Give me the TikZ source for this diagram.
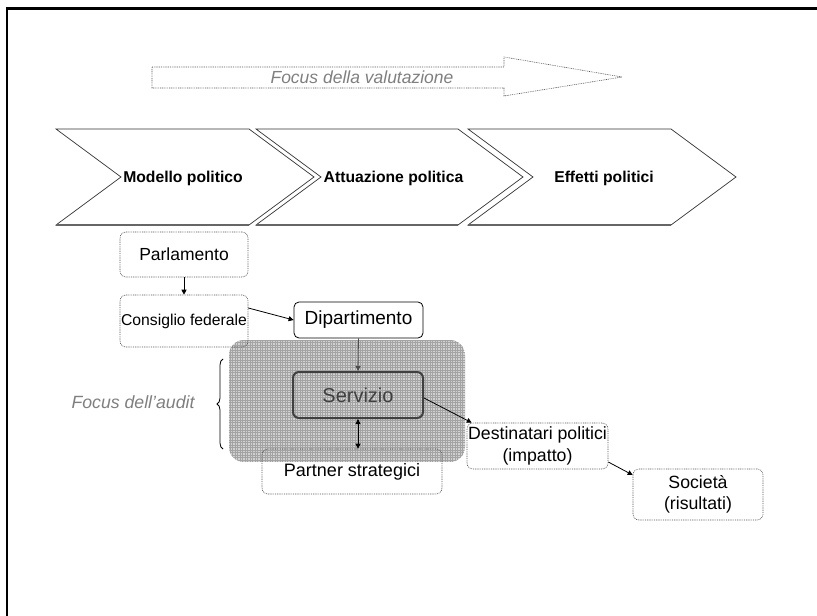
\documentclass[tikz,border=0pt]{standalone}
\usepackage{fontspec}
\setmainfont{Liberation Sans}
\usetikzlibrary{arrows.meta,decorations.pathreplacing}
\definecolor{focusgray}{HTML}{7F7F7F}
\definecolor{dotgray}{HTML}{555555}
\definecolor{servgray}{HTML}{404040}
\newcommand\sz[1]{\fontsize{#1bp}{1.2\dimexpr #1bp\relax}\selectfont}
\begin{document}
\begin{tikzpicture}[x=1bp, y=-1bp,
  dotbox/.style={draw=dotgray, line width=0.6bp, dash pattern=on 0.9bp off 0.9bp,
    rounded corners=6bp, inner sep=0pt, align=center},
  solidbox/.style={draw=black, line width=0.8bp, rounded corners=5bp, inner sep=0pt, align=center},
  chev/.style={draw=black!80, line width=0.7bp, line join=miter},
  chevlabel/.style={font=\sz{15.7}\bfseries, inner sep=0pt},
  conn/.style={line width=0.8bp, -{Triangle[length=5bp,width=5bp]}},
  focus/.style={text=focusgray, font=\sz{17.5}\itshape, inner sep=0pt}]
\useasboundingbox (0,0) rectangle (817,616);

% page frame
\draw[line width=2bp] (7,616) -- (7,8.3);
\draw[line width=3.3bp] (6,8.3) -- (817,8.3);

% evaluation focus arrow
\draw[dotgray, line width=0.6bp, dash pattern=on 0.9bp off 0.9bp]
  (152,67) -- (504,67) -- (504,57) -- (622,77) -- (504,96) -- (504,88) -- (152,88) -- cycle;
\node[focus] (evalfocus) at (362,77) {Focus della valutazione};

% process chevrons
\foreach \l/\r in {56/249, 256/458, 468/671} {
  \draw[chev] (\l,129) -- (\r,129) -- (\r+65,177) -- (\r,225) -- (\l,225) -- (\l+65,177) -- cycle;
  \draw[black!60, line width=1.6bp] (\l,225) -- (\r,225);
}
\node[chevlabel] (modello) at (183,178) {Modello politico};
\node[chevlabel] (attuazione) at (393.5,178) {Attuazione politica};
\node[chevlabel] (effetti) at (604,178) {Effetti politici};

% audit focus area
\begin{scope}
  \clip[rounded corners=15bp] (229,340) rectangle (465,462);
  \fill[black!18] (229,340) rectangle (465,462);
  \draw[black!36, line width=0.3bp, step=2.5bp] (229,340) grid (465,462);
\end{scope}
\draw[decorate, decoration={brace, amplitude=6bp}, line width=0.8bp] (223,449) -- (223,359);
\node[focus, font=\sz{17.7}\itshape] (auditfocus) at (133,402) {Focus dell’audit};

% actors
\node[dotbox, minimum width=128bp, minimum height=45bp, font=\sz{17.5}] (parl) at (184,254.5) {Parlamento};
\node[dotbox, minimum width=128bp, minimum height=52bp, font=\sz{15.7}] (cons) at (184,321) {Consiglio federale};
\node[solidbox, minimum width=129bp, minimum height=36bp, font=\sz{19}] (dip) at (358.5,320) {Dipartimento};
\node[draw=servgray, line width=2bp, rounded corners=6bp, inner sep=0pt,
  minimum width=130bp, minimum height=46bp, text=servgray, font=\sz{20}] (serv) at (358,395) {Servizio};
\node[dotbox, minimum width=180bp, minimum height=45bp, font=\sz{18}] (partner) at (352,471.5) {Partner strategici};
\node[dotbox, minimum width=141bp, minimum height=46bp, font=\sz{17.7}] (dest) at (537.5,446) {Destinatari politici\\(impatto)};
\node[dotbox, minimum width=130bp, minimum height=51bp, font=\sz{17.7}] (soc) at (698,494.5) {Società\\(risultati)};

% connectors
\draw[conn] (parl.south) -- (cons.north);
\draw[conn] ([yshift=13bp]cons.east) -- (dip.west);
\draw[conn, black!70] (dip.south) -- (serv.north);
\draw[conn, {Triangle[length=5bp,width=5bp]}-{Triangle[length=5bp,width=5bp]}] (serv.south) -- (serv.south |- partner.north);
\draw[conn] ([yshift=-3bp]serv.east) -- ([xshift=5bp]dest.north west);
\draw[conn] ([yshift=-16bp]dest.east) -- ([yshift=19.5bp]soc.west);
\end{tikzpicture}
\end{document}
